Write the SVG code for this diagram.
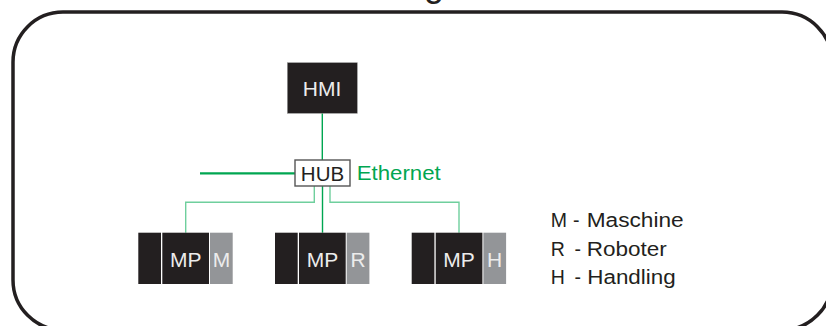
<svg xmlns="http://www.w3.org/2000/svg" width="826" height="326" viewBox="0 0 826 326">
  <style>
    .lbl { font-family: "Liberation Sans", Arial, sans-serif; }
    .dark { fill: #231f20; }
    .grey { fill: #939598; }
    .inv { fill: #ececec; font-size: 21px; text-anchor: middle; }
    .link { fill: none; stroke: #6fcf9d; stroke-width: 1.4; }
    .trunk { fill: none; stroke: #00a651; stroke-width: 1.4; }
    .legend { font-size: 19.5px; fill: #231f20; }
  </style>

  <!-- title descender, cut off at the top edge -->
  <text class="lbl" x="424" y="-4" font-size="36" fill="#231f20">g</text>

  <!-- outer frame -->
  <rect x="13" y="12" width="819" height="318" rx="50" ry="50" fill="none" stroke="#231f20" stroke-width="3.5"/>

  <!-- connectors -->
  <g id="connectors">
    <line class="trunk" x1="322.3" y1="113" x2="322.3" y2="160"/>
    <line x1="200" y1="173.3" x2="295" y2="173.3" stroke="#00a651" stroke-width="2.2"/>
    <line class="trunk" x1="322.5" y1="186" x2="322.5" y2="232.7"/>
    <polyline class="link" points="314.3,186 314.3,202.3 185.7,202.3 185.7,232.7"/>
    <polyline class="link" points="330,186 330,202.3 459,202.3 459,232.7"/>
  </g>

  <!-- operator panel -->
  <g id="hmi">
    <rect x="287.3" y="62.7" width="70" height="50.6" class="dark" stroke="#9a9a9a" stroke-width="0.6"/>
    <text class="lbl inv" x="322" y="95.7">HMI</text>
  </g>

  <!-- hub -->
  <g id="hub">
    <rect x="295" y="160" width="55" height="26" fill="#ffffff" stroke="#555555" stroke-width="1.4"/>
    <text class="lbl" x="322.5" y="181" font-size="20.5" text-anchor="middle" fill="#231f20">HUB</text>
    <text class="lbl" x="356.7" y="179.5" font-size="20.5" fill="#00a651" textLength="84" lengthAdjust="spacingAndGlyphs">Ethernet</text>
  </g>

  <!-- machine panels -->
  <g id="mp-m">
    <rect x="138.3" y="232.7" width="22.7" height="51.3" class="dark"/>
    <rect x="162.3" y="232.7" width="46.7" height="51.3" class="dark"/>
    <rect x="210" y="232.7" width="22.7" height="51.3" class="grey"/>
    <text class="lbl inv" x="185.7" y="266.7">MP</text>
    <text class="lbl inv" x="221.4" y="266.7">M</text>
  </g>
  <g id="mp-r">
    <rect x="275" y="232.7" width="22.7" height="51.3" class="dark"/>
    <rect x="299" y="232.7" width="46.7" height="51.3" class="dark"/>
    <rect x="346.7" y="232.7" width="22.7" height="51.3" class="grey"/>
    <text class="lbl inv" x="322.4" y="266.7">MP</text>
    <text class="lbl inv" x="358" y="266.7">R</text>
  </g>
  <g id="mp-h">
    <rect x="411.7" y="232.7" width="22.7" height="51.3" class="dark"/>
    <rect x="435.7" y="232.7" width="46.7" height="51.3" class="dark"/>
    <rect x="483.4" y="232.7" width="22.7" height="51.3" class="grey"/>
    <text class="lbl inv" x="459" y="266.7">MP</text>
    <text class="lbl inv" x="494.7" y="266.7">H</text>
  </g>

  <!-- legend -->
  <g id="legend" class="lbl legend">
    <text y="227.3"><tspan x="550.7">M</tspan><tspan x="573">-</tspan><tspan x="586.7" textLength="97" lengthAdjust="spacingAndGlyphs">Maschine</tspan></text>
    <text y="255.5"><tspan x="550.7">R</tspan><tspan x="574.5">-</tspan><tspan x="586.7" textLength="80" lengthAdjust="spacingAndGlyphs">Roboter</tspan></text>
    <text y="283.5"><tspan x="550.7">H</tspan><tspan x="574.5">-</tspan><tspan x="587.3" textLength="88.4" lengthAdjust="spacingAndGlyphs">Handling</tspan></text>
  </g>
</svg>
